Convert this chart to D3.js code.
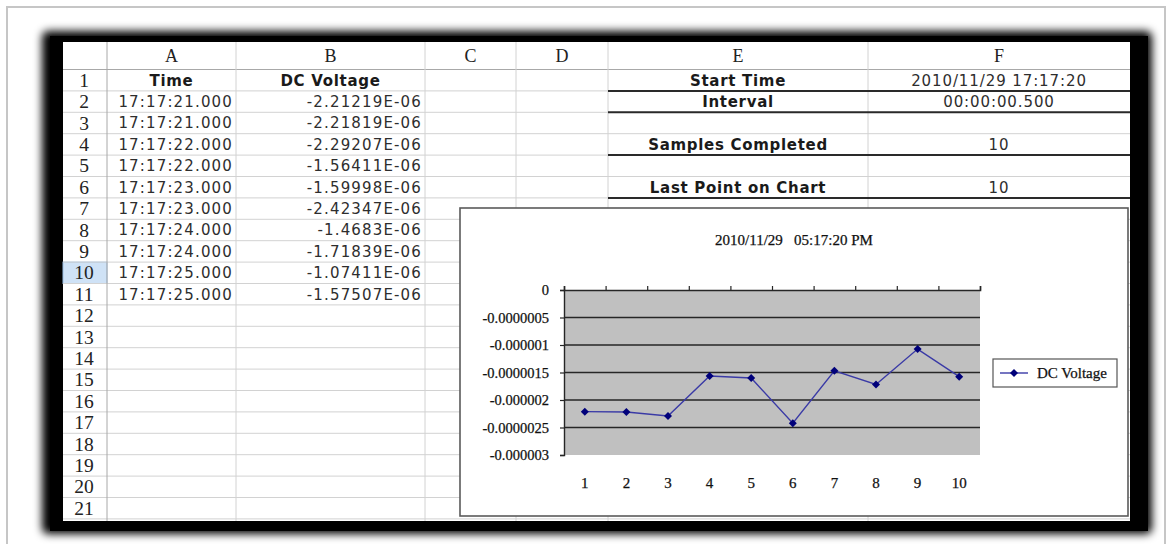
<!DOCTYPE html>
<html>
<head>
<meta charset="utf-8">
<script src="https://cdn.jsdelivr.net/npm/d3@7"></script>
<style>
  html, body { margin: 0; padding: 0; background: #ffffff; }
  svg { display: block; }
  .cell { font-family: "DejaVu Sans", Verdana, sans-serif; font-size: 15px; fill: #2e2e2e; letter-spacing: 1.15px; }
  .cellb { font-family: "DejaVu Sans", Verdana, sans-serif; font-size: 15px; font-weight: bold; fill: #1a1a1a; letter-spacing: 0.7px; }
  .hdr { font-family: "Liberation Serif", "Times New Roman", serif; font-size: 18px; fill: #222; }
  .rown { font-family: "Liberation Serif", "Times New Roman", serif; font-size: 19.5px; fill: #222; }
  .ch { font-family: "Liberation Serif", "Times New Roman", serif; font-size: 14.5px; fill: #111; stroke: #111; stroke-width: 0.25px; }
</style>
</head>
<body>
<script>
// ---------------- data ----------------
const columnLetters = ["A", "B", "C", "D", "E", "F"];
const headerTime = "Time";
const headerVoltage = "DC Voltage";
const times = ["17:17:21.000", "17:17:21.000", "17:17:22.000", "17:17:22.000", "17:17:23.000",
               "17:17:23.000", "17:17:24.000", "17:17:24.000", "17:17:25.000", "17:17:25.000"];
const voltages = [-2.21219e-6, -2.21819e-6, -2.29207e-6, -1.56411e-6, -1.59998e-6,
                  -2.42347e-6, -1.4683e-6, -1.71839e-6, -1.07411e-6, -1.57507e-6];
const samples = ["1", "2", "3", "4", "5", "6", "7", "8", "9", "10"];
const infoLabels = ["Start Time", "Interval", "", "Samples Completed", "", "Last Point on Chart"];
const infoValues = ["2010/11/29 17:17:20", "00:00:00.500", "", "10", "", "10"];
const yTicks = [0, -0.0000005, -0.000001, -0.0000015, -0.000002, -0.0000025, -0.000003];
const chartTitle = "2010/11/29   05:17:20 PM";
const seriesName = "DC Voltage";
const rowCount = 21;
const selectedRow = 10;

// ---------------- layout ----------------
const W = 1168, H = 544;
const colEdges = [63, 107, 236, 425, 516, 608, 868, 1130];
const sheetTop = 42, headerBottom = 69.5, rowH = 21.4, sheetBottom = 521;
const rowTop = i => headerBottom + (i - 1) * rowH;

const svg = d3.select("body").append("svg").attr("width", W).attr("height", H);

// outer page frame
svg.append("path")
  .attr("d", `M7,${H} L7,7 L1165,7 L1165,${H}`)
  .attr("fill", "none").attr("stroke", "#c6c6c6").attr("stroke-width", 2);

// blurred black frame
const defs = svg.append("defs");
defs.append("filter").attr("id", "blur").attr("x", "-5%").attr("y", "-5%").attr("width", "110%").attr("height", "110%")
  .append("feGaussianBlur").attr("stdDeviation", 4);
svg.append("rect").attr("x", 42).attr("y", 31).attr("width", 1152 - 42).attr("height", 534 - 31)
  .attr("rx", 6).attr("fill", "#000").attr("filter", "url(#blur)");
svg.append("rect").attr("x", 50).attr("y", 36).attr("width", 1148 - 50).attr("height", 531 - 36)
  .attr("fill", "#000");

// sheet
svg.append("rect").attr("x", colEdges[0]).attr("y", sheetTop)
  .attr("width", colEdges[7] - colEdges[0]).attr("height", sheetBottom - sheetTop).attr("fill", "#fff");

// selected row highlight
svg.append("rect").attr("x", colEdges[0]).attr("y", rowTop(selectedRow))
  .attr("width", colEdges[1] - colEdges[0]).attr("height", rowH)
  .attr("fill", "#cfe2f6").attr("stroke", "#9cc0e6").attr("stroke-width", 1);

const grid = svg.append("g");
const rowsIdx = d3.range(1, rowCount + 1);
grid.selectAll("line.h").data(rowsIdx).join("line")
  .attr("x1", colEdges[0]).attr("x2", colEdges[7])
  .attr("y1", d => rowTop(d) + rowH).attr("y2", d => rowTop(d) + rowH)
  .attr("stroke", "#d2d2d2").attr("stroke-width", 1);
grid.append("line").attr("x1", colEdges[0]).attr("x2", colEdges[7])
  .attr("y1", headerBottom).attr("y2", headerBottom).attr("stroke", "#a8a8a8");
grid.selectAll("line.v").data(colEdges.slice(1, 7)).join("line")
  .attr("x1", d => d).attr("x2", d => d)
  .attr("y1", sheetTop).attr("y2", sheetBottom)
  .attr("stroke", (d, i) => i === 0 ? "#a8a8a8" : "#d2d2d2").attr("stroke-width", 1);

// column letters
svg.selectAll("text.hdr").data(columnLetters).join("text").attr("class", "hdr")
  .attr("x", (d, i) => (colEdges[i + 1] + colEdges[i + 2]) / 2)
  .attr("y", 62).attr("text-anchor", "middle").text(d => d);
// row numbers
svg.selectAll("text.rown").data(rowsIdx).join("text").attr("class", "rown")
  .attr("x", (colEdges[0] + colEdges[1]) / 2 - 1)
  .attr("y", d => rowTop(d) + rowH / 2 + 6.5).attr("text-anchor", "middle").text(d => d);

// headers
svg.append("text").attr("class", "cellb").attr("x", (colEdges[1] + colEdges[2]) / 2).attr("y", rowTop(1) + 16)
  .attr("text-anchor", "middle").text(headerTime);
svg.append("text").attr("class", "cellb").attr("x", (colEdges[2] + colEdges[3]) / 2).attr("y", rowTop(1) + 16)
  .attr("text-anchor", "middle").text(headerVoltage);

// data cells
const fmtE = v => {
  const s = v.toExponential();
  const [m, e] = s.split("e");
  const n = Math.abs(+e);
  return m + "E" + (+e < 0 ? "-" : "+") + (n < 10 ? "0" + n : n);
};
svg.selectAll("text.t").data(times).join("text").attr("class", "cell")
  .attr("x", colEdges[2] - 3).attr("y", (d, i) => rowTop(i + 2) + 16)
  .attr("text-anchor", "end").text(d => d);
svg.selectAll("text.v").data(voltages).join("text").attr("class", "cell")
  .attr("x", colEdges[3] - 3).attr("y", (d, i) => rowTop(i + 2) + 16)
  .attr("text-anchor", "end").text(d => fmtE(d));

// info table
svg.selectAll("text.il").data(infoLabels).join("text").attr("class", "cellb")
  .attr("x", (colEdges[5] + colEdges[6]) / 2).attr("y", (d, i) => rowTop(i + 1) + 16)
  .attr("text-anchor", "middle").text(d => d);
svg.selectAll("text.iv").data(infoValues).join("text").attr("class", "cell")
  .style("letter-spacing", "0.9px")
  .attr("x", (colEdges[6] + colEdges[7]) / 2).attr("y", (d, i) => rowTop(i + 1) + 16)
  .attr("text-anchor", "middle").text(d => d);
svg.selectAll("line.ib").data(infoLabels.map((d, i) => ({ d, r: i + 1 })).filter(o => o.d !== ""))
  .join("line")
  .attr("x1", colEdges[5]).attr("x2", colEdges[7])
  .attr("y1", o => rowTop(o.r) + rowH).attr("y2", o => rowTop(o.r) + rowH)
  .attr("stroke", "#2a2a2a").attr("stroke-width", 2);

// ---------------- chart ----------------
const cb = { x0: 460, y0: 208, x1: 1128, y1: 516 };
svg.append("rect").attr("x", cb.x0).attr("y", cb.y0).attr("width", cb.x1 - cb.x0).attr("height", cb.y1 - cb.y0)
  .attr("fill", "#fff").attr("stroke", "#5a5a5a").attr("stroke-width", 1.6);

const pl = { x0: 564, x1: 980, y0: 290, y1: 455 };
const x = d3.scaleBand().domain(samples).range([pl.x0, pl.x1]);
const xb = d3.scaleLinear().domain([0, samples.length]).range([pl.x0, pl.x1]);
const y = d3.scaleLinear().domain([d3.min(yTicks), d3.max(yTicks)]).range([pl.y1, pl.y0]);

svg.append("rect").attr("x", pl.x0).attr("y", pl.y0).attr("width", pl.x1 - pl.x0).attr("height", pl.y1 - pl.y0)
  .attr("fill", "#c0c0c0");

// gridlines
svg.append("g").selectAll("line").data(yTicks.filter(t => t !== d3.max(yTicks) && t !== d3.min(yTicks)))
  .join("line").attr("x1", pl.x0).attr("x2", pl.x1).attr("y1", d => y(d)).attr("y2", d => y(d))
  .attr("stroke", "#262626").attr("stroke-width", 1.6);

const fmtY = v => (v === 0 ? "0" : v.toFixed(7).replace(/0+$/, ""));

// value axis
const ya = svg.append("g").attr("transform", `translate(${pl.x0},0)`)
  .call(d3.axisLeft(y).tickValues(yTicks).tickSize(4).tickPadding(11).tickFormat(fmtY));
ya.select(".domain").attr("stroke", "#262626").attr("stroke-width", 1.4);
ya.selectAll(".tick line").attr("stroke", "#262626").attr("stroke-width", 1.2);
ya.selectAll("text").attr("class", "ch").attr("font-family", null).attr("font-size", null).attr("fill", "#111");

// category axis (at zero, top)
const xa = svg.append("g").attr("transform", `translate(0,${y(0)})`)
  .call(d3.axisTop(xb).ticks(samples.length).tickSize(4).tickSizeOuter(4).tickFormat(""));
xa.select(".domain").attr("stroke", "#262626").attr("stroke-width", 1.6);
xa.selectAll(".tick line").attr("stroke", "#262626").attr("stroke-width", 1.2);

// category labels
const xl = svg.append("g").attr("transform", `translate(0,${pl.y1})`)
  .call(d3.axisBottom(x).tickSize(0).tickPadding(22));
xl.select(".domain").remove();
xl.selectAll("text").attr("class", "ch").attr("font-family", null).attr("font-size", null).attr("fill", "#111")
  .style("font-size", "15px");

// series line
const pts = voltages.map((v, i) => ({ k: samples[i], v }));
svg.append("path").datum(pts)
  .attr("d", d3.line().x(d => x(d.k) + x.bandwidth() / 2).y(d => y(d.v)))
  .attr("fill", "none").attr("stroke", "#3a3aa6").attr("stroke-width", 1.4);
const diamond = d3.symbol(d3.symbolSquare, 32);
svg.append("g").selectAll("path").data(pts).join("path")
  .attr("d", diamond)
  .attr("transform", d => `translate(${x(d.k) + x.bandwidth() / 2},${y(d.v)}) rotate(45)`)
  .attr("fill", "#00007a");

// title
svg.append("text").attr("class", "ch").attr("x", 794).attr("y", 245).attr("text-anchor", "middle")
  .style("white-space", "pre").style("font-size", "15px").text(chartTitle);

// legend
const lg = svg.append("g");
lg.append("rect").attr("x", 993).attr("y", 359).attr("width", 124).attr("height", 28)
  .attr("fill", "#fff").attr("stroke", "#555").attr("stroke-width", 1.2);
lg.append("line").attr("x1", 1000).attr("x2", 1028).attr("y1", 373).attr("y2", 373)
  .attr("stroke", "#3a3aa6").attr("stroke-width", 1.4);
lg.append("path").attr("d", diamond).attr("transform", "translate(1014,373) rotate(45)").attr("fill", "#00007a");
lg.append("text").attr("class", "ch").attr("x", 1037).attr("y", 378).style("font-size", "15px").text(seriesName);
</script>
</body>
</html>
